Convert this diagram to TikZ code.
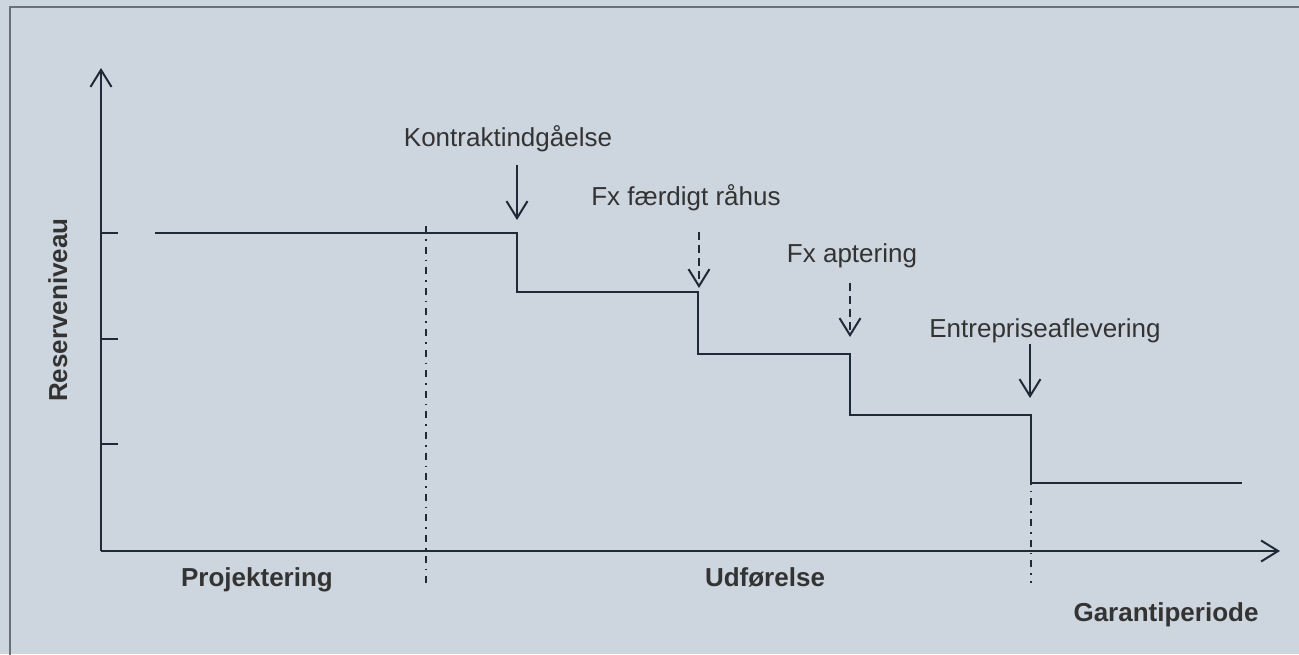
\documentclass[tikz,border=0pt]{standalone}
\usepackage{fontspec}
\setmainfont{Liberation Sans}
\usetikzlibrary{arrows.meta}
\definecolor{bg}{HTML}{CDD5DF}
\definecolor{framec}{HTML}{6B7078}
\definecolor{ink}{HTML}{1E2A38}
\definecolor{txt}{HTML}{333333}
\begin{document}
\begin{tikzpicture}[x=1pt,y=-1pt,
  line/.style={draw=ink,line width=2pt},
  barb/.style={-{Straight Barb[length=17pt,width=21pt]}},
  dashdot/.style={draw=ink,line width=1.6pt,dash pattern=on 7pt off 6pt on 1.6pt off 6pt},
  dashline/.style={dash pattern=on 8pt off 5pt},
  lbl/.style={text=txt,font=\fontsize{26}{31}\selectfont,anchor=base,inner sep=0pt},
  blbl/.style={lbl,font=\fontsize{26}{31}\selectfont\bfseries}]
\useasboundingbox (0,0) rectangle (1299,654);
\fill[bg] (0,0) rectangle (1299,654);
\draw[framec,line width=2pt] (10,670) -- (10,7) -- (1310,7);
% axes
\coordinate (O) at (101,551);
\coordinate (ytop) at (101,68);
\coordinate (xend) at (1280,551);
\draw[line,barb] (O) -- (ytop);
\draw[line,barb] (O) -- (xend);
% ticks
\foreach \y in {233,339,444} \draw[line] (101,\y) -- (118,\y);
% step line
\coordinate (s0) at (155,233);
\coordinate (s1) at (517,233);
\coordinate (s2) at (517,292);
\coordinate (s3) at (698,292);
\coordinate (s4) at (698,354);
\coordinate (s5) at (850,354);
\coordinate (s6) at (850,415);
\coordinate (s7) at (1031,415);
\coordinate (s8) at (1031,483);
\coordinate (s9) at (1242,483);
\draw[line] (s0) -- (s1) -- (s2) -- (s3) -- (s4) -- (s5) -- (s6) -- (s7) -- (s8) -- (s9);
% dash-dot phase separators
\coordinate (d1a) at (426,226);
\coordinate (d1b) at (426,583);
\coordinate (d2a) at (1031,416);
\coordinate (d2b) at (1031,583);
\draw[dashdot] (d1a) -- (d1b);
\draw[dashdot] (d2a) -- (d2b);
% labels and arrows
\node[lbl] (k) at (508,146) {Kontraktindgåelse};
\coordinate (ka) at (517,165);
\coordinate (kb) at (517,220);
\draw[line,barb] (ka) -- (kb);
\node[lbl] (f) at (686,205) {Fx færdigt råhus};
\coordinate (fa) at (699,232);
\coordinate (fb) at (699,288);
\draw[line,barb,dashline] (fa) -- (fb);
\node[lbl] (a) at (852,262) {Fx aptering};
\coordinate (aa) at (850,283);
\coordinate (ab) at (850,337);
\draw[line,barb,dashline] (aa) -- (ab);
\node[lbl] (e) at (1045,337) {Entrepriseaflevering};
\coordinate (ea) at (1030,344);
\coordinate (eb) at (1030,398);
\draw[line,barb] (ea) -- (eb);
% axis/phase labels
\node[blbl,rotate=90] (r) at (67,310) {Reserveniveau};
\node[blbl] (p) at (257,586) {Projektering};
\node[blbl] (u) at (765,586) {Udførelse};
\node[blbl] (g) at (1166,621) {Garantiperiode};
\end{tikzpicture}
\end{document}
